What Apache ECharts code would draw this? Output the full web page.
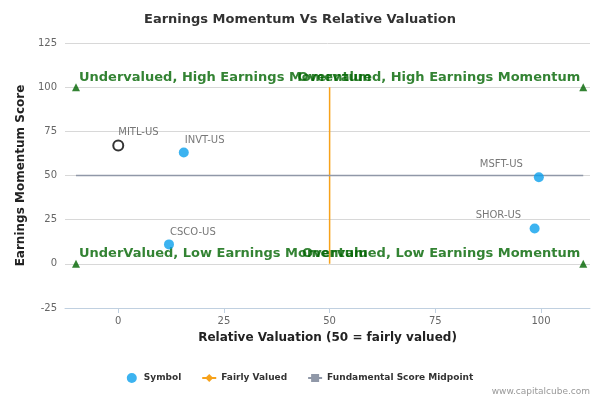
<!DOCTYPE html><html><head><meta charset="utf-8"><script src="https://cdn.jsdelivr.net/npm/echarts@6/dist/echarts.min.js"></script></head><body style="margin:0"><div id="c" style="width:600px;height:400px"></div><script>
const symbols=['MITL-US','INVT-US','MSFT-US','SHOR-US','CSCO-US'];
const valuation=[0,15.5,99.5,98.5,12];
const momentum=[67,63,49,20,11];
const xTicks=[0,25,50,75,100];
const fairX=[50,50], fairY=[0,100];
const midX=[-10,110], midY=[50,50];
const quadX=[-10,110,-10,110], quadY=[100,100,0,0];
const quadLabels=['Undervalued, High Earnings Momentum','Overvalued, High Earnings Momentum','UnderValued, Low Earnings Momentum','Overvalued, Low Earnings Momentum'];
const ch=echarts.init(document.getElementById('c'));
const F='DejaVu Sans';
ch.setOption({animation:false,textStyle:{fontFamily:F},
title:{text:'Earnings Momentum Vs Relative Valuation',left:'center',top:8,textStyle:{fontSize:13,fontWeight:'bold',color:'#333',fontFamily:F}},
legend:{bottom:12,itemGap:20,itemWidth:14,itemHeight:10,textStyle:{fontSize:9,fontWeight:'bold',color:'#333'},data:['Symbol','Fairly Valued','Fundamental Score Midpoint']},
graphic:[{type:'text',right:10,bottom:4,style:{text:'www.capitalcube.com',fontSize:9,fill:'#999',fontFamily:F}}],
grid:{left:65,right:10,top:43,bottom:92},
xAxis:{type:'value',min:-12.6,max:111.6,name:'Relative Valuation (50 = fairly valued)',nameLocation:'middle',nameGap:24,nameTextStyle:{fontSize:12,fontWeight:'bold',color:'#222'},
 axisLine:{onZero:false,lineStyle:{color:'#C0D0E0'}},axisTick:{show:true,customValues:xTicks,lineStyle:{color:'#C0D0E0'}},axisLabel:{customValues:xTicks,color:'#666',fontSize:10},splitLine:{show:false}},
yAxis:{type:'value',min:-25,max:125,interval:25,name:'Earnings Momentum Score',nameLocation:'middle',nameGap:38,nameTextStyle:{fontSize:12,fontWeight:'bold',color:'#222'},
 axisLine:{show:false,onZero:false},axisTick:{show:false},axisLabel:{color:'#666',fontSize:10},splitLine:{lineStyle:{color:'#D8D8D8'}}},
series:[
{name:'Symbol',type:'scatter',symbolSize:10,itemStyle:{color:'#0BA0EC'},data:symbols.map((s,i)=>({value:[valuation[i],momentum[i]],name:s,itemStyle:i===0?{color:'#fff',borderColor:'#000',borderWidth:2}:undefined,
  label:(i===2||i===3)?{position:[-54,-13]}:undefined})),
 label:{show:true,formatter:p=>p.name,position:[6,-12],fontSize:10,color:'#555'},z:5},
{name:'Fairly Valued',type:'line',symbol:'diamond',showSymbol:false,itemStyle:{color:'#F7A21B'},lineStyle:{color:'#F7A21B',width:1.5},data:fairX.map((x,i)=>[x,fairY[i]])},
{name:'Fundamental Score Midpoint',type:'line',symbol:'rect',showSymbol:false,itemStyle:{color:'#9098A8'},lineStyle:{color:'#9098A8',width:1.5},data:midX.map((x,i)=>[x,midY[i]])},
{name:'Quad',type:'scatter',symbol:'triangle',symbolSize:8,itemStyle:{color:'#006400'},data:quadX.map((x,i)=>({value:[x,quadY[i]],name:quadLabels[i],
  label:i%2===1?{position:'left',offset:[6,-10]}:undefined})),
 label:{show:true,formatter:p=>p.name,position:'right',offset:[-6,-10],fontSize:13,fontWeight:'bold',color:'#006400'}}
]});
</script></body></html>
